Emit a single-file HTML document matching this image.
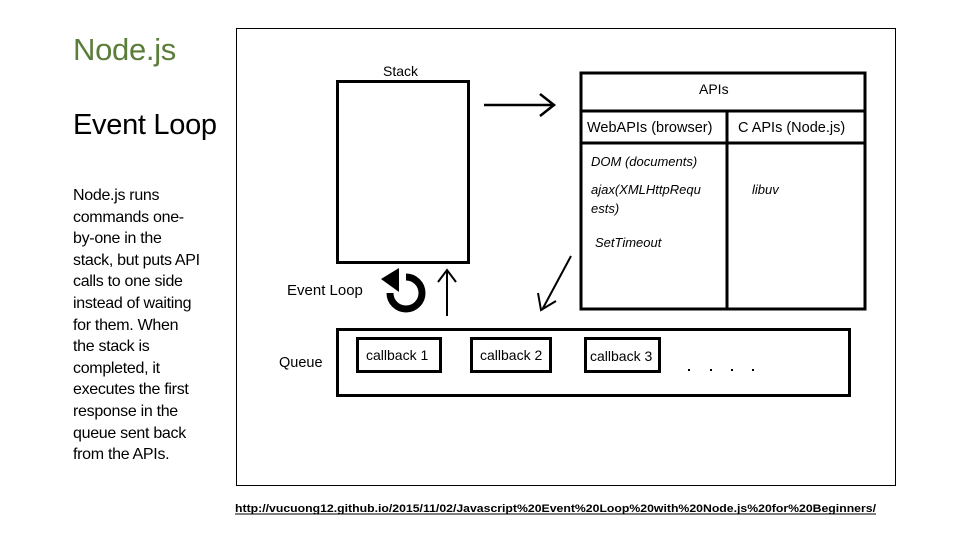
<!DOCTYPE html>
<html><head><meta charset="utf-8"><style>
body{margin:0;width:960px;height:540px;background:#fff;overflow:hidden;position:relative;font-family:"Liberation Sans",sans-serif}
.t{position:absolute;white-space:nowrap}
</style></head><body>
<div class="t" style="left:73px;top:32px;font-size:31px;color:#5b7d3a;letter-spacing:-0.3px">Node.js</div>
<div class="t" style="left:73px;top:109px;font-size:29px;color:#000;letter-spacing:-0.3px">Event Loop</div>
<div class="t" style="left:73px;top:185px;font-size:16px;line-height:21.6px;color:#000;letter-spacing:-0.3px">Node.js runs<br>commands one-<br>by-one in the<br>stack, but puts API<br>calls to one side<br>instead of waiting<br>for them. When<br>the stack is<br>completed, it<br>executes the first<br>response in the<br>queue sent back<br>from the APIs.</div>
<svg width="960" height="540" style="position:absolute;left:0;top:0" font-family="Liberation Sans, sans-serif">
<rect x="236.5" y="28.5" width="659" height="457" fill="none" stroke="#000" stroke-width="1"/>
<text x="383" y="76" font-size="14">Stack</text>
<rect x="337.5" y="81.5" width="131" height="181" fill="none" stroke="#000" stroke-width="3"/>
<rect x="581" y="73" width="284" height="236" fill="none" stroke="#000" stroke-width="3"/>
<line x1="581" y1="111" x2="865" y2="111" stroke="#000" stroke-width="3"/>
<line x1="581" y1="143" x2="865" y2="143" stroke="#000" stroke-width="3"/>
<line x1="727" y1="111" x2="727" y2="310" stroke="#000" stroke-width="3"/>
<text x="699" y="94" font-size="14">APIs</text>
<text x="587" y="132" font-size="14.5">WebAPIs (browser)</text>
<text x="738" y="132" font-size="14.5">C APIs (Node.js)</text>
<g font-size="13" font-style="italic">
<text x="591" y="166">DOM (documents)</text>
<text x="591" y="194">ajax(XMLHttpRequ</text>
<text x="591" y="213">ests)</text>
<text x="595" y="247">SetTimeout</text>
<text x="752" y="194">libuv</text>
</g>
<path d="M484 105H554M540 94L554 105L540 116" fill="none" stroke="#000" stroke-width="2.5"/>
<path d="M571 256L542 310M538 293L541 310L556 301" fill="none" stroke="#000" stroke-width="2"/>
<path d="M447 316V270M438 282L447 270L456 282" fill="none" stroke="#000" stroke-width="2"/>
<path d="M390 293A16 16 0 1 0 406 277" fill="none" stroke="#000" stroke-width="7"/>
<path d="M381 279L399 268L399 292Z" fill="#000"/>
<text x="287" y="295" font-size="15">Event Loop</text>
<text x="279" y="367" font-size="14.5">Queue</text>
<rect x="337.5" y="329.5" width="512" height="66" fill="none" stroke="#000" stroke-width="3"/>
<rect x="357.5" y="338.5" width="83" height="33" fill="none" stroke="#000" stroke-width="3"/>
<rect x="471.5" y="338.5" width="79" height="33" fill="none" stroke="#000" stroke-width="3"/>
<rect x="585.5" y="338.5" width="74" height="33" fill="none" stroke="#000" stroke-width="3"/>
<text x="366" y="360" font-size="14">callback 1</text>
<text x="480" y="360" font-size="14">callback 2</text>
<text x="590" y="361" font-size="14">callback 3</text>
<g fill="#000"><rect x="688" y="369" width="2" height="2"/><rect x="710" y="369" width="2" height="2"/><rect x="731" y="369" width="2" height="2"/><rect x="752" y="369" width="2" height="2"/></g>
<text x="235" y="512" font-size="11" font-weight="bold" fill="#000" textLength="641" lengthAdjust="spacingAndGlyphs">http://vucuong12.github.io/2015/11/02/Javascript%20Event%20Loop%20with%20Node.js%20for%20Beginners/</text>
<line x1="235" y1="514" x2="876" y2="514" stroke="#000" stroke-width="1"/>
</svg>
</body></html>
